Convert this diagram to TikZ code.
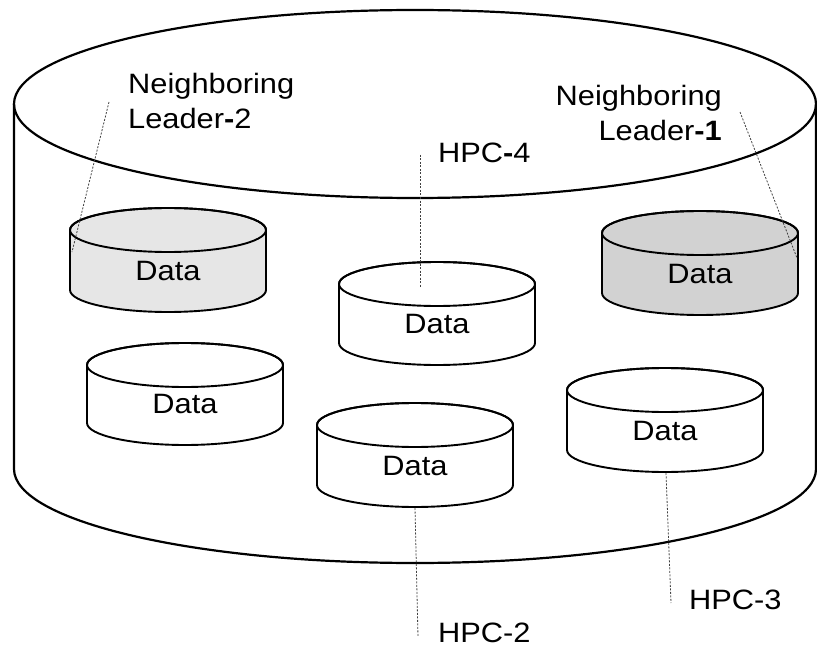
\documentclass[tikz,border=0pt]{standalone}
\usepackage{fontspec}
\setmainfont{Liberation Sans}[FakeStretch=1.1]
\definecolor{diskpale}{HTML}{E6E6E6}
\definecolor{diskgray}{HTML}{D2D2D2}
\tikzset{
  vessel/.style={line width=2.2pt},
  disk/.style={line width=1.9pt},
  leaderline/.style={draw=black!75, line width=0.8pt, dash pattern=on 2pt off 1.5pt},
  lbl/.style={inner sep=0pt, font=\fontsize{28}{35}\selectfont},
}
% a small data store: name, centre x, top-ellipse y, bottom-ellipse y, fill colour
\newcommand\datadisk[5]{%
  \filldraw[disk, fill=#5] (#2-98,#3) -- (#2-98,#4)
    arc[start angle=180, end angle=0, x radius=98, y radius=22]
    -- (#2+98,#3)
    arc[start angle=0, end angle=-180, x radius=98, y radius=22] -- cycle;
  \draw[disk] (#2,#3) ellipse[x radius=98, y radius=22];
  \node[lbl, anchor=base] (#1) at (#2,#4-10) {Data};
}
\begin{document}
\begin{tikzpicture}[x=1pt, y=-1pt]
\useasboundingbox (0,0) rectangle (817,650);

% outer store
\draw[vessel] (14,104) -- (14,469)
  arc[start angle=180, end angle=0, x radius=401, y radius=94] -- (816,104);
\draw[vessel] (415,104) ellipse[x radius=401, y radius=94];

% data stores
\datadisk{dl2}{168}{230}{290}{diskpale}
\datadisk{dw}{185}{365}{423}{white}
\datadisk{dh4}{437}{284}{343}{white}
\datadisk{dh2}{415}{425}{485}{white}
\datadisk{dl1}{700}{233}{293}{diskgray}
\datadisk{dh3}{665}{390}{450}{white}

% labels
\node[lbl, anchor=north west, align=left] (nl2) at (128,73) {Neighboring\\Leader\textbf{-}2};
\node[lbl, anchor=north east, align=right] (nl1) at (722,85) {Neighboring\\Leader\textbf{-1}};
\node[lbl, anchor=base west] (h4) at (438,163) {HPC\textbf{-}4};
\node[lbl, anchor=base west] (h2) at (438,642) {HPC-2};
\node[lbl, anchor=base west] (h3) at (689,609) {HPC-3};

% leader lines
\coordinate (l2a) at (109,102);  \coordinate (l2b) at (72,252);
\coordinate (l1a) at (740,112);  \coordinate (l1b) at (797,258);
\coordinate (h4a) at (420,155);  \coordinate (h4b) at (420,287);
\coordinate (h2a) at (415,508);  \coordinate (h2b) at (418,637);
\coordinate (h3a) at (666,473);  \coordinate (h3b) at (671,603);
\draw[leaderline] (l2a) -- (l2b);
\draw[leaderline] (l1a) -- (l1b);
\draw[leaderline] (h4a) -- (h4b);
\draw[leaderline] (h2a) -- (h2b);
\draw[leaderline] (h3a) -- (h3b);
\end{tikzpicture}
\end{document}
